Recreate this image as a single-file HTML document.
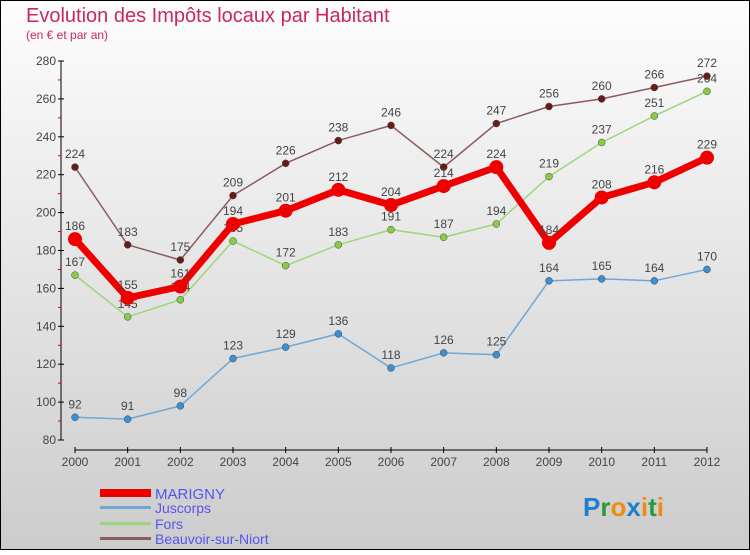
<!DOCTYPE html>
<html><head><meta charset="utf-8"><style>
body{margin:0}
#c{width:750px;height:550px;position:relative;font-family:"Liberation Sans",sans-serif}
</style></head><body>
<div id="c">
<svg id="s" width="750" height="550" xmlns="http://www.w3.org/2000/svg">
<defs><linearGradient id="bg" x1="0" y1="0" x2="0" y2="1"><stop offset="0" stop-color="#fdfdfd"/><stop offset="1" stop-color="#cccccc"/></linearGradient></defs>
<rect x="0.5" y="0.5" width="749" height="549" fill="url(#bg)" stroke="#000"/>
<text x="26" y="22" font-size="20" fill="#c8285a">Evolution des Impôts locaux par Habitant</text>
<text x="26" y="39" font-size="12" fill="#c8285a">(en € et par an)</text>
<g id="axes"></g><g id="series"></g>
<g>
<rect x="100" y="489" width="51" height="8" fill="#ee0000"/>
<text x="155" y="499" font-size="15" fill="#5555ee">MARIGNY</text>
<rect x="100" y="506" width="51" height="3" fill="#6fa7d5"/>
<text x="155" y="513" font-size="14" fill="#5555ee">Juscorps</text>
<rect x="100" y="522" width="51" height="3" fill="#9dd67a"/>
<text x="155" y="529" font-size="14" fill="#5555ee">Fors</text>
<rect x="100" y="537" width="51" height="3" fill="#8a5c5c"/>
<text x="155" y="544" font-size="14" fill="#5555ee">Beauvoir-sur-Niort</text>
</g>
<text x="583" y="516" font-size="26" font-weight="bold"><tspan fill="#1e7fd0">P</tspan><tspan fill="#2a9a3a">r</tspan><tspan fill="#f08a10">o</tspan><tspan fill="#1e7fd0">x</tspan><tspan fill="#f08a10">i</tspan><tspan fill="#2a9a3a">t</tspan><tspan fill="#f08a10">i</tspan></text>
</svg></div>
<script>
const years=[2000,2001,2002,2003,2004,2005,2006,2007,2008,2009,2010,2011,2012];
const yTicks=[80,100,120,140,160,180,200,220,240,260,280];
const marigny=[186,155,161,194,201,212,204,214,224,184,208,216,229];
const juscorps=[92,91,98,123,129,136,118,126,125,164,165,164,170];
const fors=[167,145,154,185,172,183,191,187,194,219,237,251,264];
const beauvoir=[224,183,175,209,226,238,246,224,247,256,260,266,272];
const NS="http://www.w3.org/2000/svg";
function X(i){return 75+i*(707-75)/12}
function Y(v){return 440-(v-80)*(440-61)/200}
function mk(t,a,p){const e=document.createElementNS(NS,t);for(const k in a)e.setAttribute(k,a[k]);p.appendChild(e);return e}
const ax=document.getElementById('axes');
let l=mk('line',{x1:61,y1:61,x2:61,y2:440,stroke:'#000'},ax);

l=mk('line',{x1:75,y1:450,x2:707,y2:450,stroke:'#000'},ax);

yTicks.forEach((v,i)=>{mk('line',{x1:58,x2:64,y1:Y(v),y2:Y(v),stroke:'#000'},ax);
 if(i<yTicks.length-1)mk('line',{x1:58,x2:61,y1:Y(v+10),y2:Y(v+10),stroke:'#d00'},ax);
 const t=mk('text',{x:56,y:Y(v)+4,'font-size':12,fill:'#444','text-anchor':'end'},ax);t.textContent=v;
 });
years.forEach((y,i)=>{mk('line',{x1:X(i),x2:X(i),y1:447,y2:453,stroke:'#000'},ax);
 const t=mk('text',{x:X(i),y:466,'font-size':12,fill:'#444','text-anchor':'middle'},ax);t.textContent=y;
 });
const sg=document.getElementById('series');
function draw(d,name,col,w,r,dot){
 const g=mk('g',{},sg);
 const p=mk('polyline',{points:d.map((v,i)=>X(i)+','+Y(v)).join(' '),fill:'none',stroke:col,'stroke-width':w,'stroke-linejoin':'round'},g);
 
 d.forEach((v,i)=>{const c=mk('circle',{cx:X(i),cy:Y(v),r:r,fill:dot,stroke:w>3?'none':'#444','stroke-width':0.5},g);
  
  const t=mk('text',{x:X(i),y:Y(v)-9,'font-size':12,fill:'#444','text-anchor':'middle'},g);t.textContent=v;
  });
}
draw(juscorps,'juscorps','#6fa7d5',1.5,3.5,'#3c8fd0');
draw(fors,'fors','#9dd67a',1.5,3.5,'#88cc44');
draw(beauvoir,'beauvoir','#8a5c5c',1.5,3.5,'#6a1a1a');
draw(marigny,'marigny','#ee0000',7,7,'#ee0000');
</script>
</body></html>
